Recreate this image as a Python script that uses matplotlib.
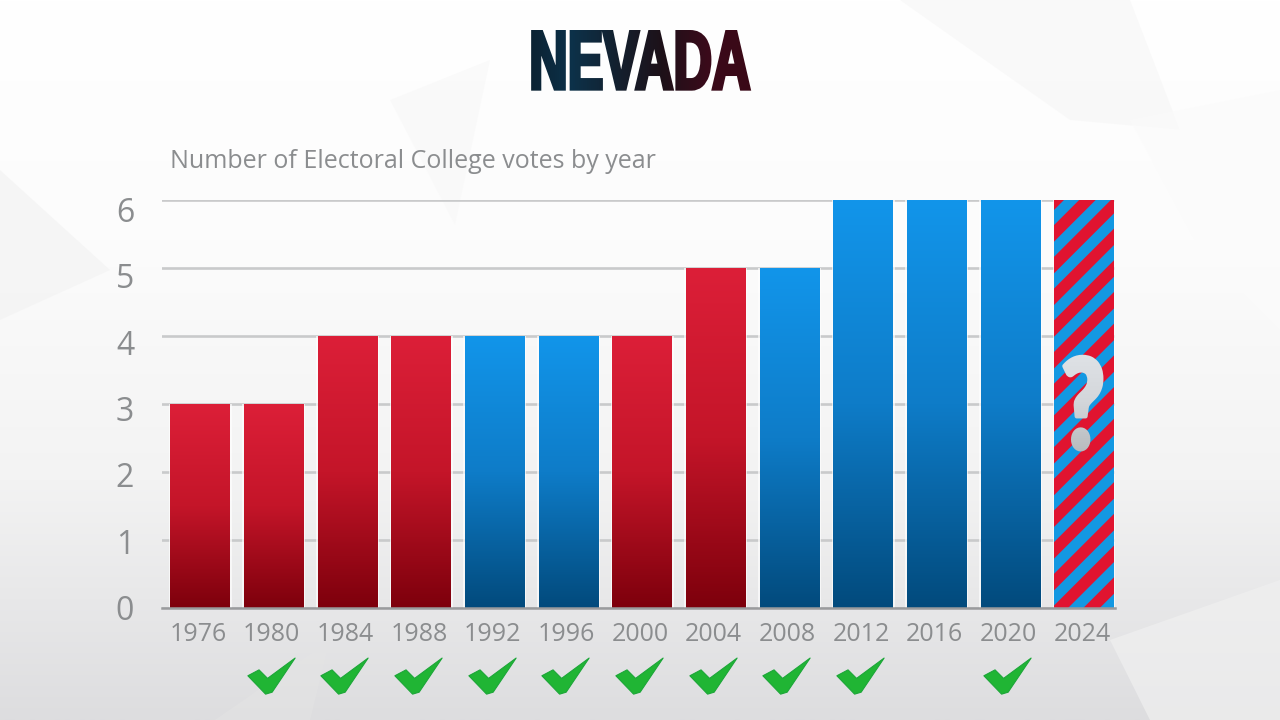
# Nevada electoral college votes by year, bars coloured by winning party
import numpy as np
import matplotlib
matplotlib.use("Agg")
import matplotlib.pyplot as plt
from matplotlib.colors import LinearSegmentedColormap
from matplotlib.patches import Polygon, Rectangle
from matplotlib.path import Path
from matplotlib.patheffects import AbstractPathEffect
from matplotlib.transforms import Bbox, ScaledTranslation

years = [1976, 1980, 1984, 1988, 1992, 1996, 2000, 2004, 2008, 2012, 2016, 2020, 2024]
votes = [3, 3, 4, 4, 4, 4, 4, 5, 5, 6, 6, 6, 6]
party = ["R", "R", "R", "R", "D", "D", "R", "R", "D", "D", "D", "D", "?"]
correct_years = [1980, 1984, 1988, 1992, 1996, 2000, 2004, 2008, 2012, 2020]
title_colours = ["#0a2030", "#0c3149", "#13202e", "#1d1018", "#3a0a1a", "#3a0816"]

plt.rcParams["font.family"] = ["Open Sans", "DejaVu Sans"]
GREY = "#8b8d8f"
W, H = 1280, 720

cmap_red = LinearSegmentedColormap.from_list("red", ["#dc1f38", "#c41529", "#7d000c"])
cmap_blue = LinearSegmentedColormap.from_list("blue", ["#1295ea", "#0e7cc8", "#024a7c"])
ramp = np.linspace(0, 1, 256).reshape(-1, 1)


class GradientSqueeze(AbstractPathEffect):
    # narrows the glyphs around a centre (no condensed font here), thickens them a bit
    # and paints them in thin clipped bands so one text can carry a colour gradient
    def __init__(self, factor, centre, weight, cmap, span, vertical=False, join="miter"):
        super().__init__()
        self.factor = factor
        self.centre = centre
        self.weight = weight
        self.cmap = cmap
        self.span = span
        self.vertical = vertical
        self.join = join

    def draw_path(self, renderer, gc, tpath, affine, rgbFace=None):
        squeezed = affine.frozen().translate(-self.centre, 0).scale(self.factor, 1).translate(self.centre, 0)
        a, b = self.span
        edges = np.arange(a, b + 2, 2)
        for k, (e0, e1) in enumerate(zip(edges[:-1], edges[1:])):
            col = self.cmap(k / max(len(edges) - 2, 1))
            gc0 = renderer.new_gc()
            gc0.copy_properties(gc)
            gc0.set_foreground(col)
            gc0.set_linewidth(self.weight)
            gc0.set_joinstyle(self.join)
            if self.vertical:
                gc0.set_clip_rectangle(Bbox([[0, H - e1], [W, H - e0]]))
            else:
                gc0.set_clip_rectangle(Bbox([[e0, 0], [e1, H]]))
            renderer.draw_path(gc0, tpath, squeezed, col)
            gc0.restore()


fig = plt.figure(figsize=(W / 100, H / 100), dpi=100)

# background, pale gradient with faint star shapes
bg = fig.add_axes([0, 0, 1, 1], zorder=0)
bg.set_xlim(0, W)
bg.set_ylim(H, 0)
bg.axis("off")
bg_cmap = LinearSegmentedColormap.from_list("bg", ["#ffffff", "#fcfcfc", "#f3f3f3", "#dddddf"])
bg.imshow(ramp, extent=[0, W, H, 0], cmap=bg_cmap, aspect="auto", zorder=0)
for pts, col, a in [
    ([(900, 0), (1130, 0), (1180, 130), (1070, 120)], "#f6f6f6", 0.6),
    ([(1130, 120), (1280, 90), (1280, 330), (1200, 250)], "#fbfbfb", 0.6),
    ([(0, 170), (110, 270), (0, 320)], "#f3f3f3", 0.7),
    ([(390, 100), (490, 60), (455, 225)], "#f9f9f9", 0.8),
    ([(1110, 640), (1280, 580), (1280, 720), (1150, 720)], "#f0f0f0", 0.7),
    ([(215, 720), (330, 640), (310, 720)], "#e4e4e4", 0.5),
]:
    bg.add_patch(Polygon(pts, closed=True, fc=col, ec="none", alpha=a, zorder=1))

# plot area, pixel box
left, right, top, bottom = 162, 1115, 200, 608
ax = fig.add_axes([left / W, 1 - bottom / H, (right - left) / W, (bottom - top) / H], zorder=1)
ax.patch.set_alpha(0)
x = np.arange(len(years))
xlim = (-0.516, 12.42)
bar_w = 0.805

ax.yaxis.grid(True, color="#c9cacb", lw=1.9, zorder=1)
ax.set_axisbelow(True)

bars = ax.bar(x, votes, width=bar_w, color="none", zorder=2)
for b, p in zip(bars, party):
    x0, h = b.get_x(), b.get_height()
    # white halo that separates the bars from the grid
    ax.add_patch(Rectangle((x0 - 0.025, 0), bar_w + 0.05, h, fc="#ffffff", ec="none", alpha=0.65, zorder=1.5))
    if p == "?":
        continue
    im = ax.imshow(ramp, extent=[x0, x0 + bar_w, 0, h], cmap=cmap_red if p == "R" else cmap_blue,
                   aspect="auto", zorder=3, origin="upper")
    im.set_clip_path(b)

# toss-up bar for 2024, red stripes on blue
last = bars[-1]
last_clip = Rectangle((last.get_x(), 0), bar_w, last.get_height(), transform=ax.transData)
ax.add_patch(Rectangle((last.get_x(), 0), bar_w, last.get_height(), fc="#1398e2", ec="none", zorder=3))
px_x = 1 / 73.67
px_y = 6 / 408
for off in np.arange(375 - 31.7 * 16, 480, 31.7):
    xs = np.array([last.get_x() - 0.1, last.get_x() + bar_w + 0.1])
    ys = (off + (xs - last.get_x()) / px_x) * px_y
    line, = ax.plot(xs, ys, color="#e01430", lw=8.4, solid_capstyle="butt", zorder=4)
    line.set_clip_path(last_clip)

ax.set_xlim(*xlim)
ax.set_ylim(0, 6)
ax.set_xticks(x, [str(y) for y in years])
ax.set_yticks(range(7), [""] * 7)
ax.tick_params(axis="x", length=0, pad=10, labelsize=18, labelcolor=GREY)
ax.tick_params(axis="y", length=0)
# the year labels sit slightly left of their bars in the reference
for lab in ax.get_xticklabels():
    lab.set_transform(lab.get_transform() + ScaledTranslation(-2 / 100, 0, fig.dpi_scale_trans))
# value labels drift below their grid lines going up the axis
for v in range(7):
    ax.annotate(str(v), (xlim[0], v), xytext=(-37 * 0.72, -(v * 1.7 + 3.5) * 0.72), textcoords="offset points",
                ha="center", va="center", fontsize=23, color=GREY, annotation_clip=False)
for s in ["top", "right", "left"]:
    ax.spines[s].set_visible(False)
ax.spines["bottom"].set_color("#9a9b9d")
ax.spines["bottom"].set_linewidth(1.8)
ax.spines["bottom"].set_zorder(5)

# check marks under the years the state picked the winner
check = Path([(-72, -10), (-38, 8), (-12, -18), (72, 44), (2, -60), (-18, -66), (-72, -10)], closed=True)
check_x = [x[years.index(y)] - 0.04 for y in correct_years]
ax.plot(check_x, [-0.94] * len(check_x), ls="none", marker=check, ms=34, mfc="#20b534", mec="#1ca638",
        mew=0.8, clip_on=False, zorder=6)

overlay = fig.add_axes([0, 0, 1, 1], zorder=2)
overlay.set_xlim(0, W)
overlay.set_ylim(H, 0)
overlay.axis("off")

# question mark over the 2024 bar
q_cmap = LinearSegmentedColormap.from_list("q", ["#dfe2e6", "#d2d5d9", "#b4b7ba"])
q = overlay.text(1083, 412, "?", fontsize=90, fontweight="black", family=["Lato", "DejaVu Sans"],
                 color="#d4d7db", ha="center", va="center")
q.set_path_effects([GradientSqueeze(0.75, 1083, 3, q_cmap, (350, 458), vertical=True, join="round")])

# title, a single text shaded from blue to dark red
title_cmap = LinearSegmentedColormap.from_list("title", title_colours)
t = overlay.text(640, 89, "NEVADA", fontsize=60, fontweight="bold", color="#1d1018", ha="center", va="baseline",
                 family=["Liberation Sans Narrow", "Liberation Sans", "DejaVu Sans"])
t.set_path_effects([GradientSqueeze(0.64, 640, 2.4, title_cmap, (525, 755))])

overlay.text(170, 161, "Number of Electoral College votes by year", fontsize=18, color=GREY,
             ha="left", va="center")

fig.savefig("out.png", dpi=100)
